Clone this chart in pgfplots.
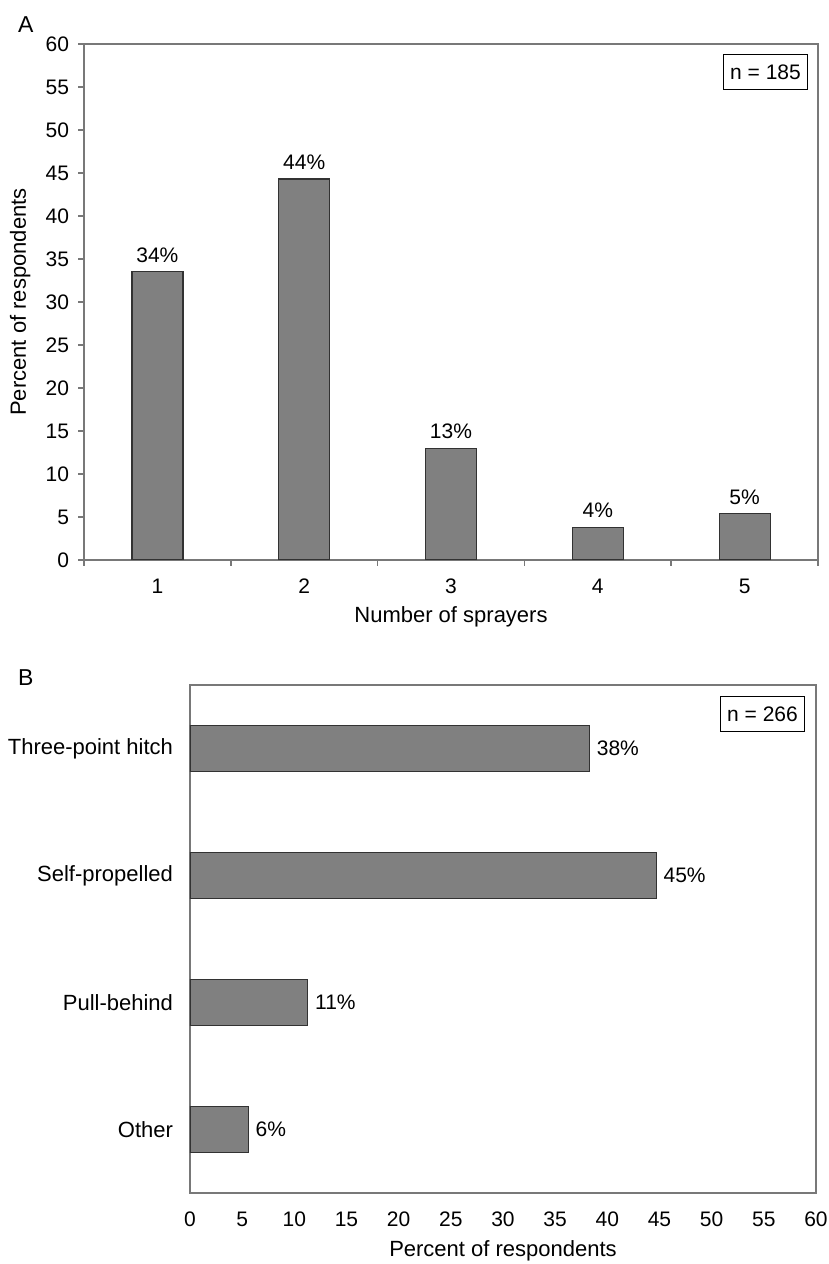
\documentclass[border=0pt]{standalone}
\usepackage{pgfplots}
\pgfplotsset{compat=1.18}
\usepackage{fontspec}
\setmainfont{Liberation Sans}
\definecolor{barfill}{RGB}{128,128,128}
\definecolor{baredge}{RGB}{50,50,50}
\definecolor{axisgray}{RGB}{120,120,120}
\begin{document}
\begin{tikzpicture}[font=\fontsize{11}{13}\selectfont]
\path[use as bounding box] (0,0) rectangle (414.5pt,632pt);
\node[anchor=west, font=\fontsize{11.5}{13}\selectfont] at (5.5pt,619.5pt) {A};
\node[anchor=west, font=\fontsize{11.5}{13}\selectfont] at (5.5pt,293pt) {B};
% Panel A
\begin{axis}[
  at={(42pt,352pt)}, anchor=south west,
  scale only axis, width=367pt, height=258pt,
  xmin=0.5, xmax=5.5, ymin=0, ymax=60,
  ytick={0,5,...,60},
  xtick={0.5,1.5,2.5,3.5,4.5,5.5},
  x tick label as interval,
  xticklabels={1,2,3,4,5},
  tick align=outside, tick pos=left,
  major tick length=3pt,
  axis line style={axisgray, line width=0.8pt},
  every tick/.style={axisgray, line width=0.8pt},
  /pgf/number format/assume math mode=true,
  ticklabel style={font=\fontsize{10.5}{12}\selectfont},
  xticklabel style={yshift=-3pt},
  yticklabel style={xshift=-1pt},
  xlabel={Number of sprayers},
  ylabel={Percent of respondents},
  every axis x label/.style={at={(axis description cs:0.5,-0.11)},anchor=center},
  every axis y label/.style={at={(axis description cs:-0.087,0.5)},rotate=90,anchor=center},
  ybar, bar width=25.5pt,
  point meta=explicit symbolic,
  nodes near coords,
  every node near coord/.append style={font=\fontsize{10.5}{12}\selectfont, yshift=1pt},
]
\addplot[fill=barfill, draw=baredge, line width=0.6pt] coordinates {
  (1,33.5) [34\%]
  (2,44.3) [44\%]
  (3,13.0) [13\%]
  (4,3.8) [4\%]
  (5,5.4) [5\%]
};
\node[draw=black, line width=0.5pt, anchor=north east, inner sep=3pt, minimum height=17.5pt, minimum width=42pt, font=\fontsize{10.5}{12}\selectfont] at ([xshift=-5pt,yshift=-5pt]rel axis cs:1,1) {n = 185};
\end{axis}
% Panel B
\begin{axis}[
  at={(95pt,35.5pt)}, anchor=south west,
  scale only axis, width=313pt, height=254pt,
  xmin=0, xmax=60, ymin=0.5, ymax=4.5,
  y dir=reverse,
  xtick={0,5,...,60},
  ytick={1,2,3,4},
  yticklabels={Three-point hitch,Self-propelled,Pull-behind,Other},
  major tick length=0pt,
  axis line style={axisgray, line width=0.8pt},
  /pgf/number format/assume math mode=true,
  xticklabel style={font=\fontsize{10.5}{12}\selectfont, yshift=-6pt},
  yticklabel style={font=\fontsize{11}{13}\selectfont, xshift=-5pt},
  xlabel={Percent of respondents},
  every axis x label/.style={at={(axis description cs:0.5,-0.114)},anchor=center},
  xbar, bar width=23pt,
  point meta=explicit symbolic,
  nodes near coords,
  every node near coord/.append style={font=\fontsize{10.5}{12}\selectfont, anchor=west, xshift=0pt},
]
\addplot[fill=barfill, draw=baredge, line width=0.6pt] coordinates {
  (38.3,1) [38\%]
  (44.7,2) [45\%]
  (11.3,3) [11\%]
  (5.6,4) [6\%]
};
\node[draw=black, line width=0.5pt, anchor=north east, inner sep=3pt, minimum height=17.5pt, minimum width=42pt, font=\fontsize{10.5}{12}\selectfont] at ([xshift=-5.5pt,yshift=-5.5pt]rel axis cs:1,1) {n = 266};
\end{axis}
\end{tikzpicture}
\end{document}
